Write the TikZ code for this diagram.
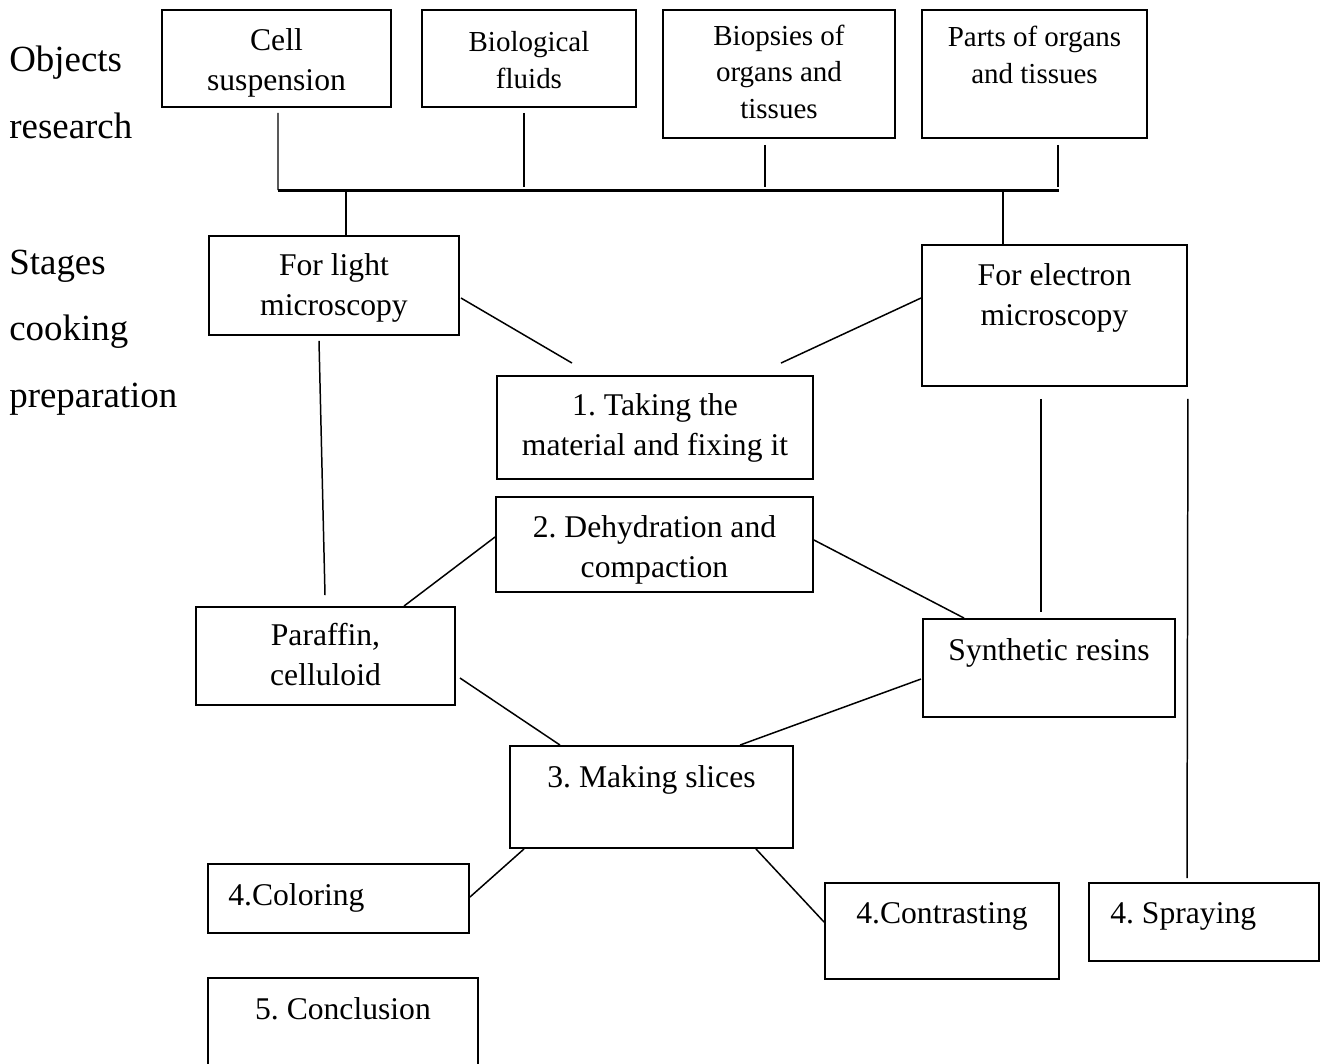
\documentclass[tikz,border=0pt]{standalone}
\usepackage{fontspec}
\setmainfont{Liberation Serif}
\usetikzlibrary{calc,fit,positioning}
\frenchspacing

\tikzset{
	box/.style={draw, line width=1.1pt, inner sep=0pt},
	conn/.style={line width=0.85pt},
	bus/.style={line width=1.7pt},
	txt/.style={align=center, anchor=base, inner sep=0pt, font=\fontsize{18}{22.7}\selectfont},
	txtsmall/.style={align=center, anchor=base, inner sep=0pt, font=\fontsize{16.5}{20.6}\selectfont},
	side/.style={align=left, anchor=base west, inner sep=0pt, font=\fontsize{21}{37.8}\selectfont}
}

\begin{document}
\begin{tikzpicture}[x=0.02cm, y=-0.02cm]
			%%%%% START %%%%%
			\useasboundingbox (0, 0) rectangle (1322, 1063);
			
			% (multi-line texts sit on the baseline of their last line)
			\node[side] (objlbl) at (9, 138) {Objects\\research};
			\node[side] (stglbl) at (9, 407) {Stages\\cooking\\preparation};
			
			% objects
			\node[box, fit={(162, 10) (391, 107)}] (cellbox) {};
			\node[box, fit={(422, 10) (636, 107)}] (biobox) {};
			\node[box, fit={(663, 10) (895, 138)}] (biopsybox) {};
			\node[box, fit={(922, 10) (1147, 138)}] (partsbox) {};
			\node[txt] (celltxt) at (276.5, 90) {Cell\\suspension};
			\node[txtsmall] (biotxt) at (529, 88) {Biological\\fluids};
			\node[txtsmall] (biopsytxt) at (779, 118) {Biopsies of\\organs and\\tissues};
			\node[txtsmall] (partstxt) at (1034.5, 83) {Parts of organs\\and tissues};
			
			\coordinate (busW) at (278, 190);
			\coordinate (busE) at (1059, 190);
			\draw[bus] (busW) -- (busE);
			\draw[conn] ($(cellbox.south)+(1.5, 5)$) -- (busW);
			\draw[conn] ($(biobox.south)+(-5, 5)$) -- ++(0, 74);
			\draw[conn] ($(biopsybox.south)+(-14, 6)$) -- ++(0, 42);
			\draw[conn] ($(partsbox.south)+(23.5, 6)$) -- ++(0, 42);
			
			% stages
			\node[box, fit={(209, 236) (459, 335)}] (lightbox) {};
			\node[box, fit={(922, 245) (1187, 386)}] (elecbox) {};
			\node[box, fit={(497, 376) (813, 479)}] (step1box) {};
			\node[box, fit={(496, 497) (813, 592)}] (step2box) {};
			\node[box, fit={(196, 607) (455, 705)}] (parabox) {};
			\node[box, fit={(923, 619) (1175, 717)}] (synthbox) {};
			\node[box, fit={(510, 746) (793, 848)}] (slicebox) {};
			\node[box, fit={(208, 864) (469, 933)}] (colorbox) {};
			\node[box, fit={(825, 883) (1059, 979)}] (contrbox) {};
			\node[box, fit={(1089, 883) (1319, 961)}] (spraybox) {};
			\node[box, fit={(208, 978) (478, 1075)}] (conclbox) {};
			
			\node[txt] (lighttxt) at (334, 315) {For light\\microscopy};
			\node[txt] (electxt) at (1054.5, 325) {For electron\\microscopy};
			\node[txt] (step1txt) at (655, 455) {1. Taking the\\material and fixing it};
			\node[txt] (step2txt) at (654.5, 577) {2. Dehydration and\\compaction};
			\node[txt] (paratxt) at (325.5, 685) {Paraffin,\\celluloid};
			\node[txt] (synthtxt) at (1049, 660) {Synthetic resins};
			\node[txt] (slicetxt) at (651.5, 787) {3. Making slices};
			\node[txt, anchor=base west] (colortxt) at (228, 905) {4.Coloring};
			\node[txt] (contrtxt) at (942, 923) {4.Contrasting};
			\node[txt, anchor=base west] (spraytxt) at (1110, 923) {4. Spraying};
			\node[txt] (concltxt) at (343, 1019) {5. Conclusion};
			
			\draw[conn] ($(lightbox.north)+(12, 0)$) -- ++(0, -46);
			\draw[conn] ($(elecbox.north)+(-51.5, 0)$) -- ++(0, -55);
			
			\draw[conn] ($(lightbox.east)+(1, 12.5)$) -- ($(step1box.north)+(-83, -12)$);
			\draw[conn] ($(elecbox.west)+(0, -17.5)$) -- ($(step1box.north)+(126, -12)$);
			\draw[conn] ($(lightbox.south)+(-15, 5)$) -- ($(parabox.north)+(-0.5, -11)$);
			\draw[conn] ($(elecbox.south)+(-13.5, 12)$) -- ($(synthbox.north)+(-8, -6)$);
			\draw[conn] ($(elecbox.south east)+(0, 12)$) -- ($(spraybox.north)+(-17, -4)$);
			
			\draw[conn] ($(step2box.west)+(0, -7.5)$) -- ($(parabox.north)+(78.5, 0)$);
			\draw[conn] ($(step2box.east)+(0, -4.5)$) -- ($(synthbox.north)+(-85, 0)$);
			\draw[conn] ($(parabox.east)+(4, 22)$) -- ($(slicebox.north)+(-91.5, 0)$);
			\draw[conn] ($(synthbox.west)+(-1, 11)$) -- ($(slicebox.north)+(88.5, 0)$);
			\draw[conn] ($(slicebox.south)+(-127.5, 0)$) -- ($(colorbox.east)+(0, -1.5)$);
			\draw[conn] ($(slicebox.south)+(104.5, 0)$) -- ($(contrbox.west)+(0, -9)$);
			
			%%%%% END %%%%%
\end{tikzpicture}
\end{document}
